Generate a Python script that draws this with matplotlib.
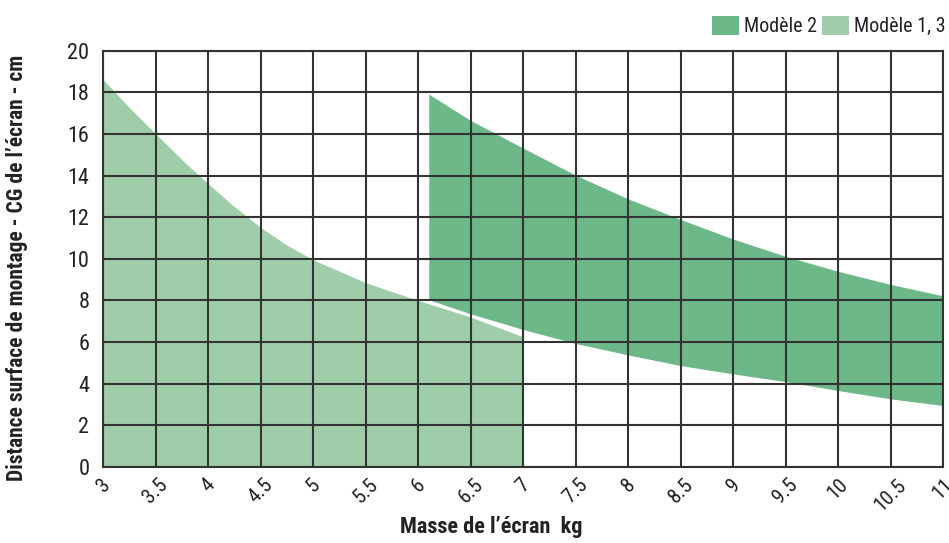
import matplotlib
matplotlib.use("Agg")
import matplotlib.pyplot as plt
from matplotlib.patches import Rectangle

# Data
x_light = [3, 3.25, 3.5, 3.75, 4, 4.25, 4.5, 4.75, 5, 5.5, 6, 6.5, 7]
y_light_top = [18.6, 17.25, 16.0, 14.75, 13.6, 12.5, 11.5, 10.65, 9.95, 8.85, 8.0, 7.2, 6.25]

x_dark = [6.09, 6.5, 7, 7.5, 8, 8.5, 9, 9.5, 10, 10.5, 11]
y_dark_top = [18.0, 16.7, 15.37, 14.07, 12.93, 11.94, 11.0, 10.17, 9.45, 8.82, 8.27]
y_dark_bottom = [8.0, 7.3, 6.55, 5.88, 5.33, 4.82, 4.42, 4.05, 3.62, 3.22, 2.9]

x_ticks = [3, 3.5, 4, 4.5, 5, 5.5, 6, 6.5, 7, 7.5, 8, 8.5, 9, 9.5, 10, 10.5, 11]
x_tick_labels = ["3", "3.5", "4", "4.5", "5", "5.5", "6", "6.5", "7", "7.5", "8",
                 "8.5", "9", "9.5", "10", "10.5", "11"]
y_ticks = [0, 2, 4, 6, 8, 10, 12, 14, 16, 18, 20]

labels = ["Modèle 2", "Modèle 1, 3"]
dark = "#6db888"
light = "#9fcdaa"
txt = "#222222"

plt.rcParams['font.family'] = ['Roboto Condensed', 'DejaVu Sans']

fig = plt.figure(figsize=(9.49, 5.43), dpi=100)
ax = fig.add_axes([0.1089, 0.140, 0.885, 0.7668])

ax.fill_between(x_light, 0, y_light_top, color=light, linewidth=0, zorder=1)
ax.fill_between(x_dark, y_dark_bottom, y_dark_top, facecolor=dark, edgecolor="white",
                linewidth=1.5, zorder=1.5)

ax.set_xlim(3, 11)
ax.set_ylim(0, 20)
ax.set_xticks(x_ticks)
ax.set_xticklabels(x_tick_labels, rotation=45, fontsize=15, color=txt)
ax.set_yticks(y_ticks)
ax.set_yticklabels([str(v) for v in y_ticks], fontsize=16, color=txt)
ax.tick_params(axis="y", length=0, pad=10)
ax.tick_params(axis="x", length=0, pad=6)
ax.grid(True, color="#333333", linewidth=1.5, zorder=2)
ax.set_axisbelow(False)
for s in ax.spines.values():
    s.set_color("#333333")
    s.set_linewidth(1.5)
    s.set_zorder(3)

fig.text(0.518, 0.010, "Masse de l’écran  kg", fontsize=16, fontweight="bold", color=txt,
         ha="center", va="bottom")
fig.text(0.018, 0.506, "Distance surface de montage - CG de l’écran - cm", rotation=90,
         fontsize=15.5, fontweight="bold", color=txt, ha="center", va="center")

# Legend (top right), laid out right to left
W, H = 949.0, 543.0
renderer = fig.canvas.get_renderer()
right = 946.0
for c, lab in reversed(list(zip([dark, light], labels))):
    t = fig.text(right / W, 1 - 26 / H, lab, fontsize=14.5, color=txt, ha="right", va="center")
    bb = t.get_window_extent(renderer)
    x0 = bb.x0 - 5 - 27
    fig.add_artist(Rectangle((x0 / W, 1 - 35 / H), 27 / W, 19 / H, facecolor=c,
                             edgecolor="none", transform=fig.transFigure))
    right = x0 - 5

fig.savefig("out.png", dpi=100)
